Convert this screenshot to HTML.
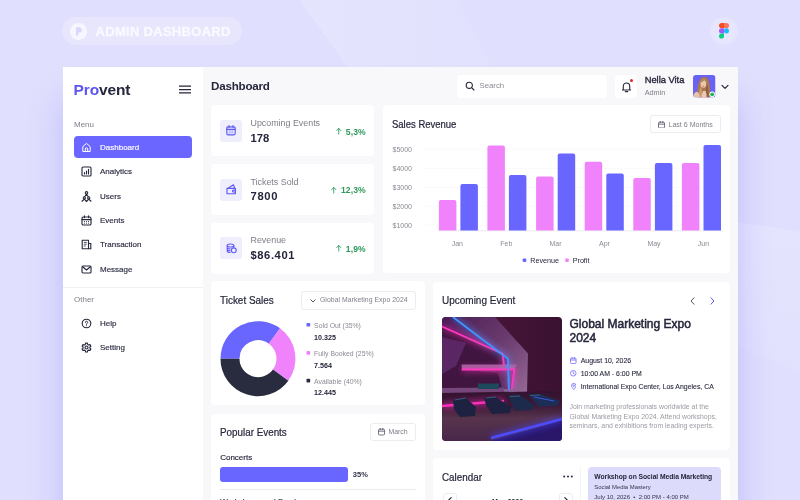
<!DOCTYPE html>
<html><head><meta charset="utf-8"><title>Provent Admin Dashboard</title>
<style>
*{box-sizing:border-box;margin:0;padding:0}
html,body{width:800px;height:500px;overflow:hidden}
body{position:relative;background:#e0dffd;font-family:"Liberation Sans",sans-serif;color:#25263b}
.abs{position:absolute}
.t{position:absolute;white-space:nowrap;line-height:1;transform:translateY(-50%)}
#bgdeco{position:absolute;left:0;top:0;width:800px;height:500px}
#pill{left:62px;top:17px;width:180px;height:28px;border-radius:14px;background:rgba(255,255,255,.22)}
#pill .c{position:absolute;left:8px;top:6px;width:16.5px;height:16.5px;border-radius:50%;background:#f7f6ff}
#pill .txt{left:33.500px;top:14.300px;font-weight:700;font-size:13px;letter-spacing:.3px;color:#faf9ff;-webkit-text-stroke:.3px #faf9ff}
#figma{left:710px;top:17px;width:28px;height:28px;border-radius:50%;background:radial-gradient(circle,rgba(255,255,255,.3) 0,rgba(255,255,255,.2) 60%,rgba(255,255,255,.12) 100%)}
#win{left:62.5px;top:67px;width:675.5px;height:440px;background:#f8f8fa;box-shadow:0 34px 32px rgba(100,96,250,.27)}
#side{left:0;top:0;width:140.5px;height:440px;background:#fff}
.card{position:absolute;background:#fff;border-radius:4px}
.mi{position:absolute;left:37.5px;font-size:8px;color:#2a2b40;line-height:1;transform:translateY(-50%);white-space:nowrap;-webkit-text-stroke:.15px #2a2b40}
.ico{position:absolute}
.grey{color:#7d7d88}
.sib{width:22px;height:22px;border-radius:3px;background:#efeefd}
.pct{font-size:8.600px;font-weight:700;color:#2f9a5c;letter-spacing:.1px}
.pct .ar{font-family:"DejaVu Sans",sans-serif;font-weight:400;font-size:8px}
.ttl{font-size:10.400px;color:#25263b;-webkit-text-stroke:.2px #25263b;transform:translateY(-50%) scaleX(.935);transform-origin:left center}
.ev{font-size:6.930px;color:#2a2b40;-webkit-text-stroke:.1px #2a2b40}
.btn{border:1px solid #ebebf0;border-radius:3px;background:#fff}
</style></head><body>
<svg id="bgdeco" viewBox="0 0 800 500">
<defs><linearGradient id="bg1" x1="0" y1="0" x2="1" y2="0"><stop offset="0" stop-color="#e8e7fe" stop-opacity=".75"/><stop offset="1" stop-color="#e6e5fe" stop-opacity=".25"/></linearGradient>
<linearGradient id="bg2" x1="0" y1="0" x2="0" y2="1"><stop offset="0" stop-color="#e8e7fe" stop-opacity=".7"/><stop offset="1" stop-color="#e6e5fe" stop-opacity=".3"/></linearGradient></defs>
<polygon points="300,0 457,0 492,67 347,67" fill="url(#bg1)"/>
<polygon points="738,222 800,232 800,372 738,346" fill="url(#bg2)"/>
</svg>
<div id="pill" class="abs"><div class="c"></div>
<svg class="abs" style="left:8px;top:6px" width="16.5" height="16.5" viewBox="0 0 16.5 16.5"><path d="M6 4.2h3.2a2.7 2.7 0 0 1 0 5.4H8.3v2.9H6z" fill="#d9d7fb"/></svg>
<div class="t txt">ADMIN DASHBOARD</div></div>
<div id="figma" class="abs">
<svg class="abs" style="left:9px;top:6.2px" width="10" height="15.6" viewBox="0 0 10 15.6">
<path d="M5 0H2.500A2.500 2.600 0 0 0 2.500 5.200H5z" fill="#f24e1e"/>
<path d="M5 0H7.500A2.500 2.600 0 0 1 7.500 5.200H5z" fill="#ff7262"/>
<path d="M5 5.200H2.500A2.500 2.600 0 0 0 2.500 10.400H5z" fill="#a259ff"/>
<ellipse cx="7.500" cy="7.800" rx="2.500" ry="2.600" fill="#1abcfe"/>
<path d="M5 10.400H2.500A2.500 2.600 0 1 0 5 13z" fill="#0acf83"/>
</svg></div>

<div id="win" class="abs">
<div id="side" class="abs">
  <div class="t" style="left:11px;top:23.100px;font-weight:700;font-size:15.500px;letter-spacing:-.12px;color:#25263b"><span style="color:#5d56f1">Pro</span>vent</div>
  <svg class="abs" style="left:116px;top:18px" width="12" height="9" viewBox="0 0 12 9"><path d="M.3 1.2h11.4M.3 4.5h11.4M.3 7.8h11.4" stroke="#25263b" stroke-width="1.25" stroke-linecap="round"/></svg>
  <div class="t grey" style="left:11.5px;top:57.5px;font-size:8px">Menu</div>
  <div class="abs" style="left:11.5px;top:69px;width:118px;height:22.3px;border-radius:4px;background:#6a66ff"></div>
  <div class="mi" style="top:80.900px;color:#fff;-webkit-text-stroke:.15px #fff">Dashboard</div>
  <div class="mi" style="top:105.200px">Analytics</div>
  <div class="mi" style="top:129.600px">Users</div>
  <div class="mi" style="top:154px">Events</div>
  <div class="mi" style="top:178.400px">Transaction</div>
  <div class="mi" style="top:202.900px">Message</div>
  <div class="abs" style="left:0;top:219.5px;width:140.5px;height:1px;background:#f0f0f3"></div>
  <div class="t grey" style="left:11.5px;top:233px;font-size:8px">Other</div>
  <div class="mi" style="top:256.900px">Help</div>
  <div class="mi" style="top:281.200px">Setting</div>
  <!-- icons -->
  <svg class="ico" style="left:18.300px;top:74.5px" width="11" height="11" viewBox="0 0 11 11" fill="none" stroke="#fff" stroke-width="1"><path d="M1.8 4.6L5.5 1.4l3.7 3.2v4.9H1.8z" stroke-linejoin="round"/><path d="M4.3 9.4V7a1.2 1.2 0 0 1 2.4 0v2.4"/></svg>
  <svg class="ico" style="left:18.300px;top:99px" width="11" height="11" viewBox="0 0 11 11" fill="none" stroke="#25263b" stroke-width="1.120"><rect x="1" y="1" width="9" height="9" rx="1"/><path d="M3.5 8V6.5M5.5 8V5M7.5 8V3.3" stroke-linecap="round"/></svg>
  <svg class="ico" style="left:18.300px;top:123.5px" width="11" height="11" viewBox="0 0 11 11" fill="none" stroke="#25263b" stroke-width="1.120"><circle cx="5.500" cy="1.900" r="1.250"/><path d="M3.400 6L5.500 3.300L7.600 6" stroke-linejoin="round"/><circle cx="3.300" cy="6.900" r="1.100"/><circle cx="7.700" cy="6.900" r="1.100"/><path d="M.7 10.500L3.300 8.100L5.500 10.500L7.700 8.100L10.300 10.500" stroke-linejoin="round"/></svg>
  <svg class="ico" style="left:18.300px;top:148px" width="11" height="11" viewBox="0 0 11 11" fill="none" stroke="#25263b" stroke-width="1.120"><rect x="1" y="2" width="9" height="8" rx="1.3"/><path d="M1 4.6h9M3.4 .8v2M7.6 .8v2" stroke-linecap="round"/><path d="M3 6.5h1M5 6.5h1M7 6.5h1M3 8.2h1M5 8.2h1M7 8.2h1" stroke-width=".8"/></svg>
  <svg class="ico" style="left:18.300px;top:172.3px" width="11" height="11" viewBox="0 0 11 11" fill="none" stroke="#25263b" stroke-width="1.120"><path d="M1.2 1.2h6.3v8.6H1.2z" stroke-linejoin="round"/><path d="M7.5 4.5h2.3v5.3H7.5"/><path d="M2.8 3.4h3M2.8 5.2h3M2.8 7h2" stroke-width=".8"/></svg>
  <svg class="ico" style="left:18.300px;top:196.8px" width="11" height="11" viewBox="0 0 11 11" fill="none" stroke="#25263b" stroke-width="1.120"><rect x="1" y="2" width="9" height="7" rx="1"/><path d="M1.3 2.5L5.5 6l4.2-3.5" stroke-linejoin="round"/></svg>
  <svg class="ico" style="left:18.300px;top:250.8px" width="11" height="11" viewBox="0 0 11 11" fill="none" stroke="#25263b" stroke-width="1.120"><circle cx="5.5" cy="5.5" r="4.3"/><path d="M4.3 4.4a1.2 1.2 0 1 1 1.8 1c-.4.3-.6.5-.6 1" stroke-width=".9" stroke-linecap="round"/><circle cx="5.5" cy="7.8" r=".5" fill="#25263b" stroke="none"/></svg>
  <svg class="ico" style="left:18.300px;top:275.1px" width="11" height="11" viewBox="0 0 11 11" fill="none" stroke="#25263b" stroke-width="1.120"><circle cx="5.5" cy="5.5" r="1.5"/><path d="M4.6 1.1h1.8l.3 1.3 1 .6 1.3-.4.9 1.5-1 .9v1.100l1 .9-.9 1.500-1.300-.4-1 .6-.3 1.300H4.600l-.3-1.300-1-.6-1.300.4-.9-1.500 1-.9V5l-1-.9.900-1.500 1.300.4 1-.6z" stroke-linejoin="round"/></svg>
</div>
<!-- MAIN -->
<div class="t" style="left:148.5px;top:18.700px;font-weight:700;font-size:11.600px;letter-spacing:-.2px">Dashboard</div>
<div class="card" style="left:394.5px;top:8px;width:150px;height:22.5px"></div>
<svg class="abs" style="left:402px;top:14.300px" width="10" height="10" viewBox="0 0 10 10" fill="none" stroke="#25263b" stroke-width="1.1"><circle cx="4.3" cy="4.3" r="3.1"/><path d="M6.6 6.600L9 9" stroke-linecap="round"/></svg>
<div class="t grey" style="left:417px;top:19.300px;font-size:7.800px;color:#8a8a94">Search</div>
<div class="card" style="left:552.3px;top:8px;width:22px;height:22.5px"></div>
<svg class="abs" style="left:558px;top:13.5px" width="11" height="12" viewBox="0 0 11 12" fill="none" stroke="#25263b" stroke-width="1.1"><path d="M2.300 8V5.200a3.200 3.200 0 0 1 6.400 0V8l.8 1H1.500z" stroke-linejoin="round"/><path d="M4.300 10.600h2.400" stroke-linecap="round"/></svg>
<div class="abs" style="left:567.4px;top:11.600px;width:3.600px;height:3.600px;border-radius:50%;background:#e5252a"></div>
<div class="t" style="left:582.200px;top:14px;font-size:9.300px;-webkit-text-stroke:.35px #25263b">Nella Vita</div>
<div class="t grey" style="left:582.200px;top:26px;font-size:7.300px">Admin</div>
<svg class="abs" style="left:630.500px;top:8px" width="22.500" height="22.500" viewBox="0 0 22.500 22.500">
<defs><clipPath id="avc"><rect width="22.500" height="22.500" rx="3"/></clipPath><filter id="avb"><feGaussianBlur stdDeviation=".35"/></filter></defs>
<g clip-path="url(#avc)"><rect width="22.500" height="22.500" fill="#6a62f4"/>
<g filter="url(#avb)">
<path d="M4.200 22.500C3.800 15 5 3 10.600 1.800c5.800-.6 7 8 6.400 20.700z" fill="#a9784f"/>
<path d="M5.500 22.500c.3-4 1-9 2.500-12l1 6 .5 6z" fill="#c99c6c"/>
<path d="M13.500 8c1.500 3 2.200 9 2 14.500h-3z" fill="#8f5f3d"/>
<path d="M8.500 22.500c.2-3 .8-5 1.600-6.500h2.400c.8 2 1.200 4 1.200 6.500z" fill="#ecc9b4"/>
<ellipse cx="10.400" cy="8.800" rx="2.900" ry="3.900" fill="#edc6ae"/>
<path d="M7.400 7.500C7.800 4.500 9.500 3.300 11.300 3.600c1.700.4 2.600 2 2.500 4.300-1.200-.8-2-2-2.500-3-.8 1.300-2.300 2.200-3.900 2.600z" fill="#b98a5c"/>
<ellipse cx="10.300" cy="11.300" rx=".9" ry=".45" fill="#d9534f"/>
<path d="M0 22.500c0-3 1.500-5.500 4-5.800 1.500.2 2.500 2.500 2.800 5.800z" fill="#e6c3ae"/>
</g>
</g>
<circle cx="19.200" cy="19.300" r="2.800" fill="#fff"/><circle cx="19.200" cy="19.300" r="1.900" fill="#22b455"/>
</svg>
<svg class="abs" style="left:658px;top:16.500px" width="8" height="6" viewBox="0 0 8 6" fill="none" stroke="#25263b" stroke-width="1.200"><path d="M1 1.300l3 3 3-3" stroke-linecap="round" stroke-linejoin="round"/></svg>

<!-- stat cards -->
<div class="card" style="left:148.200px;top:38.200px;width:163.600px;height:51.300px"></div>
<div class="card" style="left:148.200px;top:96.900px;width:163.600px;height:51.300px"></div>
<div class="card" style="left:148.200px;top:155.600px;width:163.600px;height:51.300px"></div>

<!-- stat card contents -->
<div class="abs sib" style="left:157.500px;top:52.800px"></div>
<div class="abs sib" style="left:157.500px;top:111.500px"></div>
<div class="abs sib" style="left:157.500px;top:170.200px"></div>
<svg class="abs" style="left:163.500px;top:58.300px" width="10" height="10.500" viewBox="0 0 10 10.500" fill="none" stroke="#5f59f5" stroke-width="1.150"><rect x=".8" y="1.800" width="8.400" height="8" rx="1.200"/><path d="M.8 4.300h8.400M3 .6v2M7 .6v2" stroke-linecap="round"/><path d="M2.700 6h1M4.500 6h1M6.300 6h1M2.700 7.800h1M4.500 7.800h1M6.300 7.800h1" stroke-width=".8"/></svg>
<svg class="abs" style="left:163px;top:117.300px" width="11" height="10.500" viewBox="0 0 11 10.500" fill="none" stroke="#5f59f5" stroke-width="1.150" stroke-linejoin="round"><path d="M1 4.400h8.400v5.300H1z"/><path d="M1.800 4.400L7.400.8l1.300 3.600"/><path d="M9.400 6.100h-2a.95.95 0 0 0 0 1.900h2"/></svg>
<svg class="abs" style="left:163px;top:176px" width="11" height="11" viewBox="0 0 11 11" fill="none" stroke="#5f59f5" stroke-width="1.100"><ellipse cx="4.500" cy="2.500" rx="3.300" ry="1.500"/><path d="M1.200 2.500v5.500c0 .8 1.500 1.500 3.300 1.500M7.800 2.500v2M1.200 4.400c0 .8 1.500 1.500 3.300 1.500M1.200 6.300c0 .8 1.500 1.500 3.300 1.500"/><circle cx="7.800" cy="7.300" r="2.400" fill="#efeefd"/></svg>

<div class="t grey" style="left:188px;top:56px;font-size:8.900px">Upcoming Events</div>
<div class="t" style="left:188px;top:71.800px;font-size:11.200px;font-weight:700">178</div>
<div class="t pct" style="right:372.200px;top:64.500px"><svg width="5.500" height="7" viewBox="0 0 5.500 7" style="vertical-align:-.6px;margin-right:4px" fill="none" stroke="#2f9a5c" stroke-width=".9" stroke-linecap="round" stroke-linejoin="round"><path d="M2.750 6.400V.8M.7 2.900L2.750 .7 4.800 2.900"/></svg>5,3%</div>
<div class="t grey" style="left:188px;top:114.700px;font-size:8.900px">Tickets Sold</div>
<div class="t" style="left:188px;top:130.300px;font-size:11.200px;font-weight:700;letter-spacing:.7px">7800</div>
<div class="t pct" style="right:372.200px;top:123.200px"><svg width="5.500" height="7" viewBox="0 0 5.500 7" style="vertical-align:-.6px;margin-right:4px" fill="none" stroke="#2f9a5c" stroke-width=".9" stroke-linecap="round" stroke-linejoin="round"><path d="M2.750 6.400V.8M.7 2.900L2.750 .7 4.800 2.900"/></svg>12,3%</div>
<div class="t grey" style="left:188px;top:173.400px;font-size:8.900px">Revenue</div>
<div class="t" style="left:188px;top:189px;font-size:11.200px;font-weight:700;letter-spacing:.58px">$86.401</div>
<div class="t pct" style="right:372.200px;top:181.900px"><svg width="5.500" height="7" viewBox="0 0 5.500 7" style="vertical-align:-.6px;margin-right:4px" fill="none" stroke="#2f9a5c" stroke-width=".9" stroke-linecap="round" stroke-linejoin="round"><path d="M2.750 6.400V.8M.7 2.900L2.750 .7 4.800 2.900"/></svg>1,9%</div>

<!-- Sales revenue -->
<div class="card" style="left:320px;top:38.200px;width:347.500px;height:168.300px"></div>
<div class="t ttl" style="left:329.500px;top:57.700px;font-size:10.17px">Sales Revenue</div>
<div class="abs btn" style="left:587.800px;top:48.200px;width:70.800px;height:18.200px"></div>
<svg class="abs" style="left:595.500px;top:53.700px" width="7" height="7.500" viewBox="0 0 7 7.500" fill="none" stroke="#55566a" stroke-width=".8"><rect x=".5" y="1.200" width="6" height="5.800" rx="1"/><path d="M.5 3.200h6M2.200 .4v1.500M4.800 .4v1.500" stroke-linecap="round"/></svg>
<div class="t grey" style="left:606px;top:57.900px;font-size:7.050px">Last 6 Months</div>
<svg class="abs" style="left:320px;top:38px" width="348" height="169" viewBox="382.500 105 348 169">
<g stroke="#efeff3" stroke-width=".6" stroke-dasharray="2 2"><path d="M424 149.300H722M424 168.500H722M424 187.500H722M424 206.300H722M424 225.300H722"/></g>
<path d="M437 230.800H722" stroke="#e6e6ec" stroke-width=".8"/>
<g fill="#f083fb">
<path d="M438.4 230.500v-28.500a2 2 0 0 1 2-2h13.500a2 2 0 0 1 2 2v28.500z"/>
<path d="M486.9 230.500v-83a2 2 0 0 1 2-2h13.500a2 2 0 0 1 2 2v83z"/>
<path d="M535.6 230.500v-52a2 2 0 0 1 2-2h13.500a2 2 0 0 1 2 2v52z"/>
<path d="M584.2 230.500v-66.800a2 2 0 0 1 2-2h13.500a2 2 0 0 1 2 2v66.800z"/>
<path d="M632.8 230.500v-50.600a2 2 0 0 1 2-2h13.500a2 2 0 0 1 2 2v50.600z"/>
<path d="M681.4 230.500v-65.500a2 2 0 0 1 2-2h13.500a2 2 0 0 1 2 2v65.500z"/>
</g>
<g fill="#6966ff">
<path d="M459.9 230.500v-44.500a2 2 0 0 1 2-2h13.500a2 2 0 0 1 2 2v44.500z"/>
<path d="M508.4 230.500v-53.500a2 2 0 0 1 2-2h13.500a2 2 0 0 1 2 2v53.500z"/>
<path d="M557.2 230.500v-75a2 2 0 0 1 2-2h13.500a2 2 0 0 1 2 2v75z"/>
<path d="M605.8 230.500v-55.100a2 2 0 0 1 2-2h13.500a2 2 0 0 1 2 2v55.100z"/>
<path d="M654.4 230.500v-65.500a2 2 0 0 1 2-2h13.500a2 2 0 0 1 2 2v65.500z"/>
<path d="M703.0 230.500v-83.500a2 2 0 0 1 2-2h13.500a2 2 0 0 1 2 2v83.500z"/>
</g>
<g font-family="Liberation Sans, sans-serif" font-size="7" fill="#8a8a94">
<text x="392" y="151.800">$5000</text><text x="392" y="171">$4000</text><text x="392" y="190">$3000</text><text x="392" y="208.800">$2000</text><text x="392" y="227.800">$1000</text>
<g text-anchor="middle"><text x="456.800" y="246.300">Jan</text><text x="505.800" y="246.300">Feb</text><text x="555" y="246.300">Mar</text><text x="604" y="246.300">Apr</text><text x="653.500" y="246.300">May</text><text x="703" y="246.300">Jun</text></g>
</g>
<rect x="522.200" y="258.400" width="3.600" height="3.600" rx=".9" fill="#6966ff"/><rect x="564.700" y="258.400" width="3.600" height="3.600" rx=".9" fill="#f083fb"/>
<g font-family="Liberation Sans, sans-serif" font-size="7.200" fill="#25263b"><text x="529.700" y="263">Revenue</text><text x="572.200" y="263">Profit</text></g>
</svg>

<!-- Ticket sales -->
<div class="card" style="left:148.200px;top:214.300px;width:214.300px;height:124px"></div>
<div class="t ttl" style="left:157.700px;top:233.300px;font-size:10.65px">Ticket Sales</div>
<div class="abs btn" style="left:238.400px;top:224px;width:114.900px;height:18.500px"></div>
<svg class="abs" style="left:247.500px;top:231.500px" width="6" height="4" viewBox="0 0 6 4" fill="none" stroke="#44455a" stroke-width=".9"><path d="M.8 .8l2.200 2.200 2.200-2.200" stroke-linecap="round" stroke-linejoin="round"/></svg>
<div class="t grey" style="left:257.500px;top:233.300px;font-size:6.850px;letter-spacing:.05px">Global Marketing Expo 2024</div>
<svg class="abs" style="left:148px;top:214px" width="215" height="125" viewBox="210.500 281 215 125"><path d="M220.00 358.70A37.5 37.5 0 0 1 279.54 328.36L268.37 343.73A18.5 18.5 0 0 0 239.00 358.70z" fill="#6966ff"/><path d="M279.54 328.36A37.5 37.5 0 0 1 287.84 380.74L272.47 369.57A18.5 18.5 0 0 0 268.37 343.73z" fill="#f083fb"/><path d="M287.84 380.74A37.5 37.5 0 0 1 220.00 358.70L239.00 358.70A18.5 18.5 0 0 0 272.47 369.57z" fill="#292c3f"/>
<rect x="306" y="322.900" width="3.700" height="3.700" rx=".9" fill="#6966ff"/><rect x="306" y="351.100" width="3.700" height="3.700" rx=".9" fill="#f083fb"/><rect x="306" y="378.700" width="3.700" height="3.700" rx=".9" fill="#292c3f"/>
<g font-family="Liberation Sans, sans-serif" font-size="6.850" fill="#8a8a94"><text x="313.600" y="327.900">Sold Out (35%)</text><text x="313.600" y="356.100">Fully Booked (25%)</text><text x="313.600" y="383.600">Available (40%)</text></g>
<g font-family="Liberation Sans, sans-serif" font-size="7.150" font-weight="700" fill="#25263b"><text x="313.600" y="340">10.325</text><text x="313.600" y="367.900">7.564</text><text x="313.600" y="395.200">12.445</text></g>
</svg>

<!-- Upcoming event -->
<div class="card" style="left:370.500px;top:214.500px;width:297.300px;height:168px"></div>
<div class="t ttl" style="left:379.500px;top:233px;font-size:10.70px">Upcoming Event</div>
<svg class="abs" style="left:627.500px;top:229.500px" width="5" height="8" viewBox="0 0 5 8" fill="none" stroke="#55566a" stroke-width="1"><path d="M4 .8L1 4l3 3.200" stroke-linecap="round" stroke-linejoin="round"/></svg>
<svg class="abs" style="left:647px;top:229.500px" width="5" height="8" viewBox="0 0 5 8" fill="none" stroke="#5d56f1" stroke-width="1"><path d="M1 .8L4 4 1 7.200" stroke-linecap="round" stroke-linejoin="round"/></svg>
<svg id="evimg" class="abs" style="left:379.500px;top:249.800px" width="120" height="124" viewBox="0 0 120 124">
<defs><clipPath id="ec"><rect width="120" height="124" rx="4"/></clipPath>
<filter id="b0" x="-10%" y="-10%" width="120%" height="120%"><feGaussianBlur stdDeviation="2.500"/></filter>
<filter id="b1" x="-20%" y="-20%" width="140%" height="140%"><feGaussianBlur stdDeviation=".7"/></filter>
<filter id="b2" x="-20%" y="-20%" width="140%" height="140%"><feGaussianBlur stdDeviation=".6"/></filter>
<filter id="b3" x="-30%" y="-30%" width="160%" height="160%"><feGaussianBlur stdDeviation="3"/></filter>
<linearGradient id="wallg" x1="0" y1="0" x2="1" y2="0"><stop offset="0" stop-color="#50183f"/><stop offset=".6" stop-color="#431435"/><stop offset="1" stop-color="#3a1130"/></linearGradient>
<linearGradient id="flg" x1="0" y1="0" x2="0" y2="1"><stop offset="0" stop-color="#33122f"/><stop offset=".3" stop-color="#3d1a38"/><stop offset=".55" stop-color="#57344c"/><stop offset="1" stop-color="#47264a"/></linearGradient>
<linearGradient id="bandg" x1="0" y1="0" x2="1" y2="1"><stop offset="0" stop-color="#4c1f54"/><stop offset=".5" stop-color="#6a3a6e"/><stop offset="1" stop-color="#946a96"/></linearGradient>
</defs>
<g clip-path="url(#ec)">
<rect width="120" height="124" fill="url(#wallg)"/>
<g filter="url(#b2)">
<polygon points="0,0 53,0 86,36.500 85,76 62,76 60,38 0,11" fill="url(#bandg)"/>
<polygon points="0,11 60,38 62,76 0,78" fill="#401541"/><polygon points="0,0 10.800,0 65.800,41.800 66.500,60 62,60 60.500,36.500 0,9.500" fill="#4a1d56"/>
<polygon points="0,20 24,26 14,49 0,57" fill="#5a2864"/>
<polygon points="19.500,47.500 75,47.500 72,53 20,53" fill="#96689a"/>
<polygon points="24,53 72,53 69.500,72 60,72 56,56" fill="#6a2a60"/>
<polygon points="0,71 62,70.500 62,75.500 0,76.500" fill="#74467a"/>
<rect x="36" y="66.500" width="21" height="5.500" fill="#1f4a5c"/>
</g>
<polygon points="0,76 120,74 120,124 0,124" fill="url(#flg)"/>
<polygon points="49,124 120,103.500 120,124" fill="#2a176a"/>
<g filter="url(#b3)" opacity=".55">
<path d="M0 9.500L60.500 36.500L62 48" stroke="#ff2fb8" stroke-width="5" fill="none"/>
<path d="M19.700 52.500H72.200L69.700 72" stroke="#ff2fb8" stroke-width="5" fill="none"/>
<path d="M10.800 0L65.800 41.800L67 72.500" stroke="#3f8cff" stroke-width="5" fill="none"/>
<path d="M0 89L62 84" stroke="#ff2fb8" stroke-width="6" fill="none"/>
<path d="M49 121L120 102" stroke="#4a49ff" stroke-width="6" fill="none"/>
</g>
<g filter="url(#b1)" fill="none">
<path d="M0 9.500L60.500 36.500L62 48" stroke="#ff38c0" stroke-width="1.800"/>
<path d="M19.700 52.500H72.200L69.700 72" stroke="#ff38c0" stroke-width="1.800"/>
<path d="M10.800 0L65.800 41.800L67 72.500" stroke="#3f94ff" stroke-width="1.800"/>
<path d="M0 89L62 84" stroke="#ff2fb8" stroke-width="2.400"/>
<path d="M49 121L120 102" stroke="#4d4cff" stroke-width="2.400"/>
</g>
<g filter="url(#b2)">
<polygon points="11,83 24,81 34,90 33,99 18,100 12,92" fill="#1b2140"/>
<polygon points="42,81 54,80 69,90 68,96 50,97 44,88" fill="#1b2140"/>
<polygon points="66,78.500 78,78 92,88 90,93 73,93.500" fill="#1d2a4c"/>
<polygon points="86,77.500 98,77 118,84 115,89 97,89.500" fill="#1f2d55"/>
<path d="M13 83L24 81M44 81L54 80M68 79.500L78 79M88 78.500L98 78" stroke="#3a6a8a" stroke-width=".8"/>
<path d="M92 80L112 84" stroke="#3a57e0" stroke-width="1"/>
</g>
</g></svg>
<div class="abs" style="left:507px;top:251.200px;font-size:12px;line-height:13.600px;width:140px;-webkit-text-stroke:.5px #25263b">Global Marketing Expo 2024</div>
<svg class="abs" style="left:507.500px;top:289.500px" width="6.500" height="7" viewBox="0 0 7 7.500" fill="none" stroke="#6a64fb" stroke-width=".8"><rect x=".5" y="1.200" width="6" height="5.800" rx="1"/><path d="M.5 3.200h6M2.200 .4v1.500M4.800 .4v1.500" stroke-linecap="round"/></svg>
<svg class="abs" style="left:507.500px;top:303px" width="6.500" height="6.500" viewBox="0 0 7 7" fill="none" stroke="#6a64fb" stroke-width=".8"><circle cx="3.500" cy="3.500" r="3"/><path d="M3.500 2v1.700l1.200 .6" stroke-linecap="round"/></svg>
<svg class="abs" style="left:508px;top:316px" width="5.500" height="7" viewBox="0 0 5.500 7" fill="none" stroke="#6a64fb" stroke-width=".8"><path d="M2.750 6.500C1.300 4.800 .5 3.700 .5 2.700a2.250 2.250 0 0 1 4.500 0c0 1-.8 2.100-2.250 3.800z"/><circle cx="2.750" cy="2.700" r=".7"/></svg>
<div class="t ev" style="left:518.200px;top:293.700px">August 10, 2026</div>
<div class="t ev" style="left:518.200px;top:307.200px">10:00 AM - 6:00 PM</div>
<div class="t ev" style="left:518.200px;top:319.900px">International Expo Center, Los Angeles, CA</div>
<div class="abs" style="left:507px;top:335.300px;font-size:6.920px;line-height:9.500px;color:#9a9aa3;white-space:nowrap">Join marketing professionals worldwide at the<br>Global Marketing Expo 2024. Attend workshops,<br>seminars, and exhibitions from leading experts.</div>

<!-- Popular events -->
<div class="card" style="left:148.200px;top:346.500px;width:214.300px;height:110px"></div>
<div class="t ttl" style="left:157.700px;top:365.300px;font-size:10.54px">Popular Events</div>
<div class="abs btn" style="left:307.200px;top:355.800px;width:46.100px;height:18.700px"></div>
<svg class="abs" style="left:315px;top:361.300px" width="7" height="7.500" viewBox="0 0 7 7.500" fill="none" stroke="#55566a" stroke-width=".8"><rect x=".5" y="1.200" width="6" height="5.800" rx="1"/><path d="M.5 3.200h6M2.200 .4v1.500M4.800 .4v1.500" stroke-linecap="round"/></svg>
<div class="t grey" style="left:326px;top:365.300px;font-size:6.900px">March</div>
<div class="t" style="left:157.700px;top:391px;font-size:8px;-webkit-text-stroke:.15px #25263b">Concerts</div>
<div class="abs" style="left:157.700px;top:400px;width:127.700px;height:15px;border-radius:3px;background:#6966ff"></div>
<div class="t" style="left:290.300px;top:407.600px;font-size:7.500px;font-weight:700;color:#33344a">35%</div>
<div class="abs" style="left:157.700px;top:421.800px;width:196px;height:1px;background:#ececf0"></div>
<div class="t" style="left:157.700px;top:435px;font-size:8px;-webkit-text-stroke:.15px #25263b">Workshops and Seminars</div>

<!-- Calendar -->
<div class="card" style="left:370.500px;top:391px;width:297.300px;height:80px"></div>
<div class="t ttl" style="left:379.500px;top:409.700px;font-size:10.54px">Calendar</div>
<svg class="abs" style="left:500.500px;top:408.300px" width="10" height="3" viewBox="0 0 10 3" fill="#25263b"><circle cx="1.200" cy="1.500" r="1"/><circle cx="5" cy="1.500" r="1"/><circle cx="8.800" cy="1.500" r="1"/></svg>
<div class="abs btn" style="left:380px;top:426px;width:14.200px;height:14px"></div>
<div class="abs btn" style="left:496.200px;top:426px;width:14.200px;height:14px"></div>
<svg class="abs" style="left:385px;top:430px" width="4" height="6" viewBox="0 0 4 6" fill="none" stroke="#25263b" stroke-width="1.120"><path d="M3.200 .6L.8 3l2.400 2.400" stroke-linecap="round" stroke-linejoin="round"/></svg>
<svg class="abs" style="left:501.500px;top:430px" width="4" height="6" viewBox="0 0 4 6" fill="none" stroke="#25263b" stroke-width="1.120"><path d="M.8 .6L3.200 3 .8 5.400" stroke-linecap="round" stroke-linejoin="round"/></svg>
<div class="t" style="left:429.500px;top:434px;font-size:7px;font-weight:700">May 2026</div>
<div class="abs" style="left:517.500px;top:400px;width:1px;height:60px;background:#f4f4f7"></div>
<div class="abs" style="left:525.500px;top:400px;width:133px;height:60px;border-radius:4px;background:#dddbfc"></div>
<div class="t" style="left:531.800px;top:409.800px;font-size:6.750px;font-weight:700;letter-spacing:-.05px">Workshop on Social Media Marketing</div>
<div class="t" style="left:531.800px;top:421.300px;font-size:5.920px;color:#33344a">Social Media Mastery</div>
<div class="t" style="left:531.800px;top:429.600px;font-size:6px;color:#33344a">July 10, 2026 &nbsp;•&nbsp; 2:00 PM - 4:00 PM</div>
</div>
</body></html>
